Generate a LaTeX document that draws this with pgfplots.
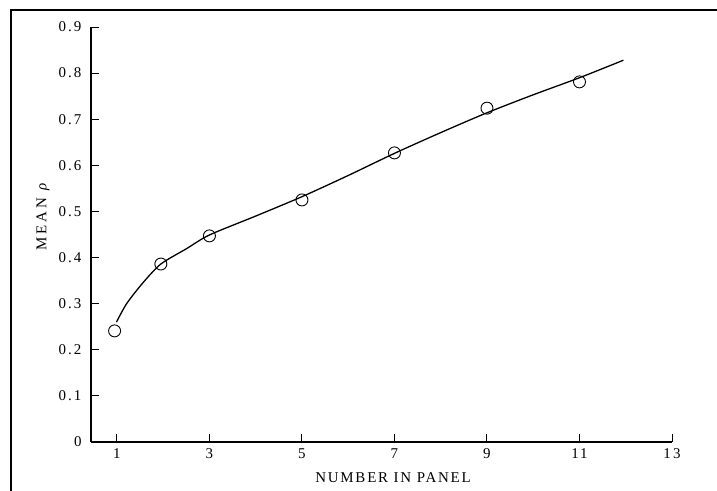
\documentclass[border=0pt]{standalone}
\usepackage{pgfplots}
\pgfplotsset{compat=1.18}
\usepackage{fontspec}
\setmainfont{Liberation Serif}
\begin{document}
\begin{tikzpicture}
\path[use as bounding box] (0,0) rectangle (717bp,-491bp);
\draw[line width=1.6bp] (11bp,-491bp) -- (11bp,-10bp) -- (717bp,-10bp);
\begin{axis}[
  at={(91bp,-442bp)}, anchor=south west,
  scale only axis, width=581bp, height=415bp,
  xmin=0.44, xmax=13, ymin=0, ymax=0.9,
  axis lines=left,
  axis line style={-, line width=1.1bp},
  xtick={1,3,5,7,9,11,13},
  ytick={0,0.1,0.2,0.3,0.4,0.5,0.6,0.7,0.8,0.9},
  tick align=inside, major tick length=8bp,
  tick style={line width=1bp, black},
  ticklabel style={font=\fontsize{15}{17}\selectfont\addfontfeature{LetterSpace=14}},
  /pgf/number format/assume math mode=true,
  yticklabel style={xshift=-6bp},
  xticklabel style={yshift=-3bp},
  clip=false,
]
\addplot[black, line width=1.3bp, smooth, tension=0.45] coordinates {
  (0.99,0.26) (1.21,0.300) (1.56,0.345) (1.95,0.386) (2.5,0.419) (3,0.449)
  (4,0.49) (5,0.532) (6,0.578) (7,0.626) (8,0.671) (9,0.714) (10,0.753)
  (11,0.79) (11.95,0.828)};
\addplot[only marks, mark=o, mark size=6bp, mark options={line width=0.9bp, fill=white, draw=black}] coordinates {
  (0.95,0.241) (1.95,0.386) (3,0.447) (5,0.525) (7,0.627) (9,0.724) (11,0.781)};
\end{axis}
\node[font=\fontsize{15}{18}\selectfont\addfontfeature{LetterSpace=12}] at (393bp,-478bp) {NUMBER IN PANEL};
\node[rotate=90, font=\fontsize{15}{18}\selectfont\addfontfeature{LetterSpace=20}] at (43bp,-217bp) {MEAN {\itshape ρ}};
\end{tikzpicture}
\end{document}
